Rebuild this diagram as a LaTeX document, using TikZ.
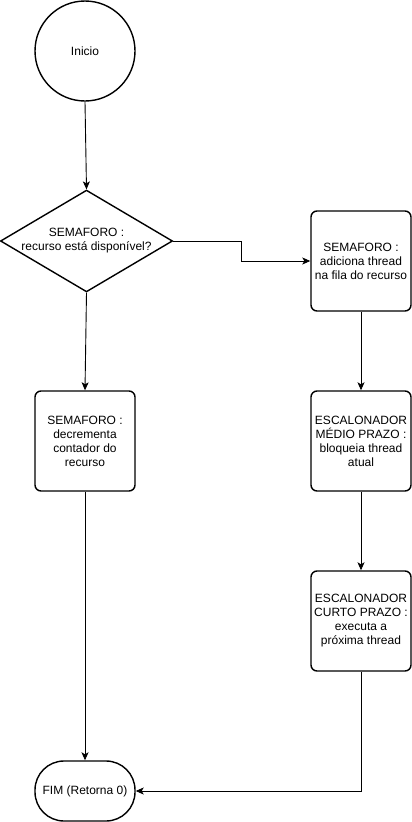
\documentclass[tikz,border=0pt]{standalone}
\usepackage{fontspec}
\setmainfont{Liberation Sans}
\usetikzlibrary{arrows.meta,shapes.geometric}
\begin{document}
\begin{tikzpicture}[x=1pt,y=-1pt,
  shp/.style={draw=black,line width=1.4pt,fill=white,align=center,font=\fontsize{12}{14}\selectfont,inner sep=0pt},
  procbox/.style={shp,rectangle,rounded corners=6pt,minimum width=100pt,minimum height=100pt},
  conn/.style={draw=black,line width=0.9pt,-{Stealth[length=8pt,width=7pt,inset=2pt]}}]
\useasboundingbox (0,0) rectangle (412,822);
\node[shp,circle,minimum size=100pt] (ini) at (85,51) {Inicio};
\node[shp,diamond,minimum width=169pt,minimum height=100pt,aspect=1.69] (dec) at (86.5,241) {SEMAFORO :\\recurso está disponível?};
\node[procbox] (add) at (361,261) {SEMAFORO :\\adiciona thread\\na fila do recurso};
\node[procbox] (decr) at (85,441) {SEMAFORO :\\decrementa\\contador do\\recurso};
\node[procbox] (blk) at (361,441) {ESCALONADOR\\MÉDIO PRAZO :\\bloqueia thread\\atual};
\node[procbox] (exe) at (361,621) {ESCALONADOR\\CURTO PRAZO :\\executa a\\próxima thread};
\node[shp,rectangle,rounded corners=29pt,minimum width=100pt,minimum height=60pt] (fim) at (85,791) {FIM (Retorna 0)};
\coordinate (j1) at (241,241);
\coordinate (j2) at (241,261);
\coordinate (j3) at (361,791);
\draw[conn] (ini.south) -- (dec.north);
\draw[conn] (dec.east) -- (j1) -- (j2) -- (add.west);
\draw[conn] (dec.south) -- (decr.north);
\draw[conn] (add.south) -- (blk.north);
\draw[conn] (blk.south) -- (exe.north);
\draw[conn] (decr.south) -- (fim.north);
\draw[conn] (exe.south) -- (j3) -- (fim.east);
\end{tikzpicture}
\end{document}
